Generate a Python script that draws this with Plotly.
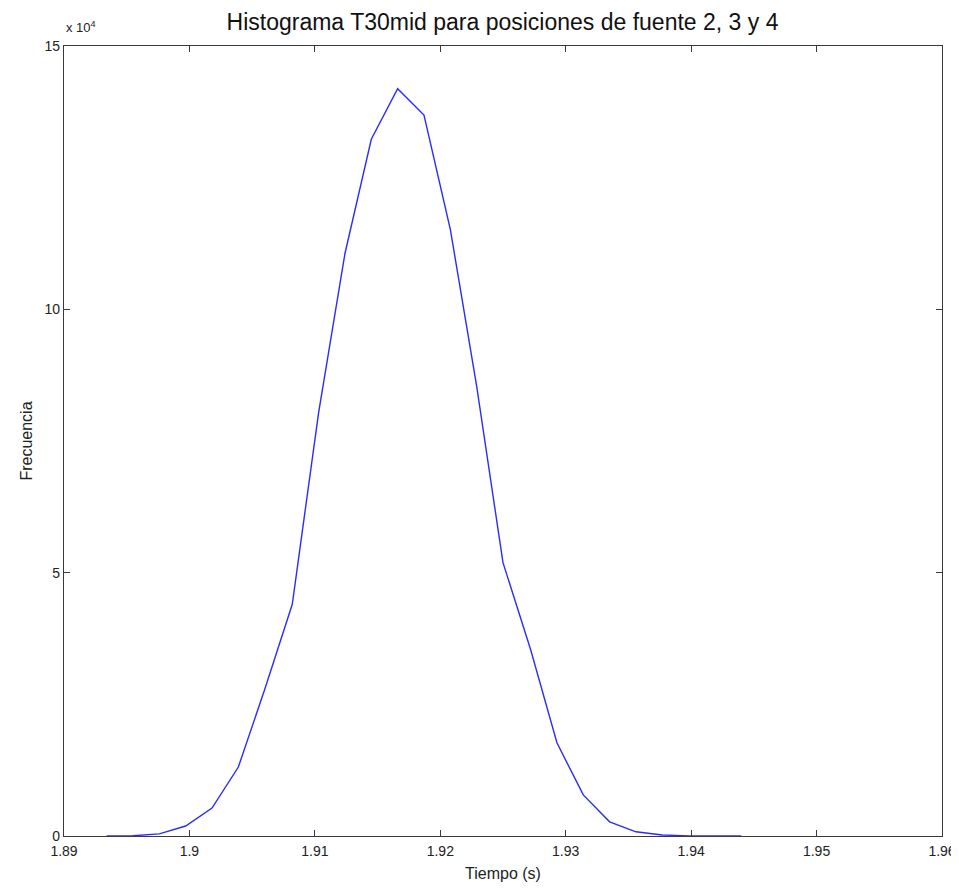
import plotly.graph_objects as go

tiempo = [1.8934, 1.8955, 1.8976, 1.8997, 1.9018, 1.9039, 1.9060, 1.9082, 1.9103,
          1.9124, 1.9145, 1.9166, 1.9187, 1.9208, 1.9229, 1.9250, 1.9272, 1.9293,
          1.9314, 1.9335, 1.9356, 1.9377, 1.9398, 1.9419, 1.9440]
frecuencia = [0, 50, 400, 1900, 5300, 13100, 27800, 44000, 80400, 110600, 132300,
              141900, 136900, 115200, 85400, 51900, 35400, 17700, 7800, 2700, 800,
              200, 30, 10, 0]

x_ticks = [1.89, 1.90, 1.91, 1.92, 1.93, 1.94, 1.95, 1.96]
x_labels = ["1.89", "1.9", "1.91", "1.92", "1.93", "1.94", "1.95", "1.96"]
y_ticks = [0, 50000, 100000, 150000]
y_labels = ["0", "5", "10", "15"]

FONT = "Liberation Sans, Arial, sans-serif"

fig = go.Figure()
fig.add_trace(go.Scatter(x=tiempo, y=frecuencia, mode="lines",
                         line=dict(color="#2b2bff", width=1.4),
                         showlegend=False))

axis_common = dict(showline=True, linecolor="#3a3a3a", linewidth=1.2, mirror="ticks",
                   ticks="inside", ticklen=6, tickcolor="#3a3a3a", tickwidth=1,
                   showgrid=False, zeroline=False, automargin=False,
                   tickfont=dict(family=FONT, size=14, color="#222"))

fig.update_layout(
    width=951, height=874,
    margin=dict(l=56, r=17, t=38, b=46),
    paper_bgcolor="white", plot_bgcolor="white",
    title=dict(text="Histograma T30mid para posiciones de fuente 2, 3 y 4",
               x=0.520, xanchor="center", y=0.984, yanchor="middle",
               font=dict(family=FONT, size=23, color="#111")),
    xaxis=dict(range=[1.89, 1.96], tickvals=x_ticks, ticktext=x_labels,
               ticklabelstandoff=2,
               title=dict(text="Tiempo (s)", font=dict(family=FONT, size=16, color="#222"),
                          standoff=10),
               **axis_common),
    yaxis=dict(range=[0, 150000], tickvals=y_ticks, ticktext=y_labels,
               title=dict(text="Frecuencia", font=dict(family=FONT, size=16, color="#222"),
                          standoff=7),
               **axis_common),
)

fig.add_annotation(text="x 10<sup>4</sup>", xref="paper", yref="paper",
                   x=0.0, y=1.0, xanchor="left", yanchor="bottom", yshift=9,
                   showarrow=False, font=dict(family=FONT, size=13, color="#222"))

fig.write_html("out.html")
